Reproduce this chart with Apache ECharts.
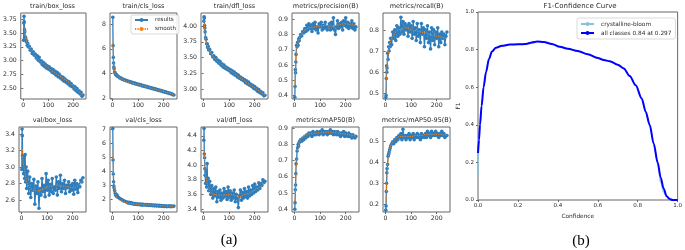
<!DOCTYPE html>
<html>
<head>
<meta charset="utf-8">
<script src="https://cdn.jsdelivr.net/npm/echarts@6/dist/echarts.min.js"></script>
<style>
  html, body { margin: 0; padding: 0; background: #fff; }
  #chart { width: 685px; height: 250px; }
</style>
</head>
<body>
<div id="chart"></div>
<script>
// epochs sampled from the training log (results + smooth)
const epochs = [1,2,3,4,5,6,8,10,12,14,16,18,20,24,28,32,36,40,44,48,52,56,60,64,68,72,76,80,84,88,92,96,100,104,108,112,116,120,124,128,132,136,140,144,148,152,156,160,164,168,172,176,180,184,188,192,196,200,204,208,212,216,220,224,228,232,236,240]
const smoothEpochs = [1,3,5,8,12,16,20,30,40,60,80,100,120,140,160,180,200,220,240]

const trainBox = [3.37,3.68,3.80,3.70,3.56,3.52,3.43,3.41,3.34,3.36,
  3.28,3.31,3.25,3.26,3.19,3.21,3.13,3.16,3.10,3.12,
  3.05,3.09,3.01,3.06,2.98,3.00,2.93,2.97,2.90,2.94,
  2.87,2.91,2.85,2.89,2.83,2.86,2.79,2.84,2.77,2.81,
  2.74,2.79,2.71,2.76,2.69,2.72,2.66,2.70,2.63,2.67,
  2.61,2.64,2.58,2.62,2.55,2.59,2.53,2.55,2.49,2.53,
  2.46,2.50,2.43,2.46,2.40,2.43,2.36,2.38]
const trainBoxSmooth = [3.62,3.62,3.57,3.48,3.38,3.31,3.27,3.19,3.13,3.03,2.95,2.87,2.80,2.74,2.68,2.62,2.54,2.46,2.38]

const trainCls = [8.55,6.25,5.30,4.85,4.52,4.38,4.12,4.05,3.93,3.92,
  3.83,3.86,3.76,3.74,3.64,3.65,3.55,3.56,3.48,3.49,
  3.41,3.43,3.35,3.38,3.29,3.32,3.24,3.27,3.19,3.22,
  3.14,3.17,3.09,3.12,3.05,3.09,3.00,3.03,2.96,2.98,
  2.91,2.94,2.86,2.89,2.82,2.85,2.77,2.80,2.73,2.76,
  2.68,2.71,2.63,2.67,2.59,2.63,2.54,2.57,2.49,2.52,
  2.44,2.47,2.39,2.42,2.34,2.36,2.28,2.26]
const trainClsSmooth = [6.6,5.4,4.6,4.15,3.95,3.85,3.77,3.62,3.51,3.33,3.20,3.10,3.01,2.87,2.77,2.65,2.55,2.41,2.30]

const trainDfl = [4.08,4.15,4.13,4.01,3.97,3.91,3.82,3.79,3.72,3.72,
  3.66,3.68,3.62,3.63,3.56,3.58,3.51,3.53,3.47,3.50,
  3.44,3.46,3.41,3.44,3.38,3.40,3.35,3.38,3.33,3.35,
  3.31,3.33,3.29,3.31,3.26,3.29,3.24,3.27,3.22,3.24,
  3.19,3.22,3.17,3.19,3.15,3.17,3.13,3.15,3.10,3.13,
  3.08,3.11,3.06,3.08,3.04,3.06,3.01,3.04,2.99,3.01,
  2.96,2.99,2.94,2.96,2.92,2.94,2.89,2.90]
const trainDflSmooth = [4.08,4.05,3.95,3.82,3.73,3.67,3.63,3.56,3.50,3.42,3.36,3.30,3.25,3.18,3.13,3.07,3.02,2.96,2.90]

const precision = [0.39,0.46,0.57,0.55,0.62,0.67,0.73,0.72,0.75,0.73,
  0.77,0.76,0.78,0.80,0.79,0.82,0.81,0.84,0.82,0.86,
  0.83,0.87,0.84,0.86,0.82,0.87,0.84,0.88,0.83,0.85,
  0.81,0.87,0.85,0.88,0.83,0.86,0.84,0.88,0.85,0.83,
  0.85,0.87,0.83,0.88,0.84,0.91,0.83,0.80,0.85,0.89,
  0.84,0.87,0.85,0.88,0.83,0.89,0.86,0.91,0.85,0.88,
  0.84,0.87,0.85,0.89,0.84,0.87,0.83,0.85]
const precisionSmooth = [0.45,0.52,0.60,0.69,0.74,0.76,0.78,0.81,0.83,0.845,0.85,0.855,0.86,0.855,0.86,0.865,0.87,0.865,0.86]

const recall = [0.48,0.49,0.57,0.63,0.60,0.62,0.69,0.66,0.72,0.70,
  0.74,0.72,0.76,0.73,0.79,0.76,0.80,0.75,0.82,0.77,
  0.81,0.78,0.86,0.79,0.84,0.78,0.83,0.80,0.82,0.77,
  0.83,0.79,0.82,0.76,0.84,0.78,0.81,0.75,0.83,0.77,
  0.80,0.74,0.83,0.78,0.81,0.72,0.80,0.76,0.82,0.74,
  0.79,0.71,0.81,0.75,0.80,0.73,0.79,0.76,0.81,0.72,
  0.78,0.74,0.79,0.76,0.78,0.73,0.77,0.79]
const recallSmooth = [0.51,0.56,0.61,0.66,0.70,0.73,0.75,0.77,0.79,0.805,0.81,0.80,0.795,0.79,0.785,0.775,0.77,0.765,0.76]

const valBox = [2.97,3.46,3.38,3.14,2.98,3.10,2.92,3.13,2.86,3.15,
  2.82,3.00,2.74,2.95,2.68,2.88,2.63,2.80,2.72,2.85,
  2.55,2.77,2.68,2.82,2.50,2.74,2.66,2.86,2.70,2.78,
  2.64,2.92,2.72,2.84,2.66,2.79,2.70,2.86,2.68,2.76,
  2.72,2.88,2.66,2.82,2.74,2.90,2.70,2.80,2.74,2.84,
  2.68,2.78,2.75,2.82,2.70,2.78,2.72,2.80,2.67,2.84,
  2.73,2.80,2.69,2.78,2.76,2.84,2.82,2.87]
const valBoxSmooth = [3.20,3.22,3.10,3.02,2.96,2.88,2.82,2.76,2.73,2.71,2.73,2.76,2.77,2.78,2.77,2.76,2.75,2.77,2.83]

const valCls = [7.05,4.80,3.80,3.25,2.95,2.80,2.62,2.45,2.30,2.35,
  2.22,2.28,2.15,2.12,2.05,2.02,1.96,1.92,1.88,1.86,
  1.82,1.80,1.74,1.78,1.70,1.76,1.68,1.72,1.65,1.70,
  1.63,1.68,1.62,1.66,1.60,1.65,1.58,1.64,1.59,1.63,
  1.57,1.62,1.56,1.61,1.55,1.60,1.54,1.59,1.53,1.58,
  1.52,1.57,1.51,1.56,1.50,1.55,1.49,1.54,1.48,1.53,
  1.47,1.52,1.48,1.53,1.47,1.52,1.48,1.51]
const valClsSmooth = [5.6,4.4,3.3,2.75,2.40,2.20,2.05,1.92,1.83,1.73,1.68,1.64,1.62,1.59,1.57,1.55,1.52,1.50,1.50]

const valDfl = [4.34,4.50,4.15,4.10,3.95,3.86,3.75,3.92,3.70,4.02,
  3.72,3.82,3.65,3.78,3.60,3.72,3.55,3.68,3.58,3.70,
  3.50,3.64,3.56,3.66,3.52,3.62,3.55,3.68,3.57,3.64,
  3.53,3.70,3.56,3.65,3.52,3.62,3.55,3.66,3.50,3.60,
  3.54,3.42,3.58,3.66,3.52,3.63,3.55,3.68,3.57,3.64,
  3.55,3.70,3.58,3.66,3.60,3.72,3.62,3.74,3.64,3.70,
  3.66,3.76,3.68,3.74,3.72,3.80,3.76,3.78]
const valDflSmooth = [4.25,4.15,3.98,3.85,3.80,3.72,3.68,3.62,3.60,3.59,3.59,3.60,3.59,3.57,3.60,3.62,3.66,3.70,3.76]

const map50 = [0.40,0.44,0.52,0.55,0.62,0.68,0.71,0.76,0.78,0.80,
  0.79,0.81,0.82,0.83,0.82,0.84,0.83,0.85,0.84,0.86,
  0.85,0.87,0.86,0.87,0.85,0.88,0.86,0.87,0.86,0.88,
  0.87,0.86,0.88,0.87,0.89,0.86,0.88,0.87,0.88,0.86,
  0.88,0.87,0.89,0.87,0.88,0.86,0.88,0.87,0.86,0.88,
  0.86,0.87,0.85,0.87,0.86,0.88,0.85,0.87,0.86,0.85,
  0.87,0.85,0.86,0.84,0.86,0.85,0.84,0.85]
const map50Smooth = [0.45,0.50,0.58,0.67,0.76,0.79,0.82,0.84,0.855,0.865,0.87,0.872,0.875,0.875,0.872,0.868,0.864,0.858,0.852]

const map5095 = [0.17,0.19,0.26,0.30,0.35,0.37,0.39,0.43,0.44,0.45,
  0.46,0.47,0.48,0.49,0.50,0.49,0.51,0.50,0.52,0.51,
  0.53,0.52,0.54,0.51,0.56,0.52,0.53,0.51,0.53,0.52,
  0.54,0.51,0.53,0.52,0.54,0.51,0.53,0.52,0.54,0.52,
  0.53,0.51,0.54,0.52,0.53,0.52,0.54,0.52,0.55,0.53,
  0.54,0.52,0.55,0.53,0.54,0.53,0.55,0.53,0.54,0.52,
  0.54,0.53,0.55,0.53,0.54,0.52,0.53,0.53]
const map5095Smooth = [0.20,0.25,0.31,0.38,0.43,0.46,0.48,0.50,0.515,0.525,0.525,0.525,0.53,0.53,0.535,0.535,0.535,0.535,0.53]

// tick labels
const epochTicks = [0, 100, 200]
const trainBoxTicks = [2.5, 2.75, 3.0, 3.25, 3.5, 3.75]
const trainClsTicks = [2, 4, 6, 8]
const trainDflTicks = [3.0, 3.25, 3.5, 3.75, 4.0]
const precisionTicks = [0.4, 0.5, 0.6, 0.7, 0.8, 0.9]
const recallTicks = [0.5, 0.6, 0.7, 0.8]
const valBoxTicks = [2.6, 2.8, 3.0, 3.2, 3.4]
const valClsTicks = [2, 3, 4, 5, 6, 7]
const valDflTicks = [3.4, 3.6, 3.8, 4.0, 4.2, 4.4]
const map50Ticks = [0.4, 0.5, 0.6, 0.7, 0.8, 0.9]
const map5095Ticks = [0.2, 0.3, 0.4, 0.5]

// F1-confidence curve
const confidence = [0,0.005,0.01,0.018,0.028,0.04,0.055,0.07,0.09,0.12,0.16,0.2,0.24,0.27,0.297,0.33,0.37,0.41,0.45,0.5,0.55,0.6,0.63,0.66,0.7,0.73,0.76,0.79,0.82,0.84,0.86,0.88,0.9,0.915,0.93,0.945,0.96,0.975,1.0]
const f1All = [0.25,0.32,0.40,0.50,0.60,0.68,0.75,0.79,0.81,0.82,0.827,0.828,0.830,0.838,0.843,0.840,0.830,0.815,0.805,0.792,0.775,0.755,0.745,0.738,0.72,0.70,0.66,0.61,0.54,0.47,0.40,0.30,0.20,0.12,0.06,0.02,0.005,0.0,0.0]
const f1Class = [0.12,0.30,0.39,0.50,0.60,0.68,0.75,0.79,0.81,0.82,0.827,0.828,0.830,0.838,0.843,0.840,0.830,0.815,0.805,0.792,0.775,0.755,0.745,0.738,0.72,0.70,0.66,0.61,0.54,0.47,0.40,0.30,0.19,0.09,0.04,0.015,0.003,0.0,0.0]
const f1Ticks = [0, 0.2, 0.4, 0.6, 0.8, 1.0]

const FONT = 'DejaVu Sans'
const TXT = '#2b2b2b'
const FRAME = '#666'

const panels = [
  { title: 'train/box_loss', data: trainBox, smooth: trainBoxSmooth, ticks: trainBoxTicks, min: 2.31, max: 3.86, dec: 2, left: 19, top: 13, h: 86 },
  { title: 'train/cls_loss', data: trainCls, smooth: trainClsSmooth, ticks: trainClsTicks, min: 1.94, max: 8.89, dec: 0, left: 110, top: 13, h: 86 },
  { title: 'train/dfl_loss', data: trainDfl, smooth: trainDflSmooth, ticks: trainDflTicks, min: 2.84, max: 4.21, dec: 2, left: 201, top: 13, h: 86 },
  { title: 'metrics/precision(B)', data: precision, smooth: precisionSmooth, ticks: precisionTicks, min: 0.378, max: 0.941, dec: 1, left: 292, top: 13, h: 86 },
  { title: 'metrics/recall(B)', data: recall, smooth: recallSmooth, ticks: recallTicks, min: 0.473, max: 0.88, dec: 1, left: 383, top: 13, h: 86 },
  { title: 'val/box_loss', data: valBox, smooth: valBoxSmooth, ticks: valBoxTicks, min: 2.455, max: 3.485, dec: 1, left: 19, top: 127, h: 85 },
  { title: 'val/cls_loss', data: valCls, smooth: valClsSmooth, ticks: valClsTicks, min: 1.09, max: 7.16, dec: 0, left: 110, top: 127, h: 85 },
  { title: 'val/dfl_loss', data: valDfl, smooth: valDflSmooth, ticks: valDflTicks, min: 3.36, max: 4.52, dec: 1, left: 201, top: 127, h: 85 },
  { title: 'metrics/mAP50(B)', data: map50, smooth: map50Smooth, ticks: map50Ticks, min: 0.383, max: 0.908, dec: 1, left: 292, top: 127, h: 85 },
  { title: 'metrics/mAP50-95(B)', data: map5095, smooth: map5095Smooth, ticks: map5095Ticks, min: 0.161, max: 0.571, dec: 1, left: 383, top: 127, h: 85 }
]

const grid = [], xAxis = [], yAxis = [], series = [], graphic = []
const PW = 67

panels.forEach((p, i) => {
  grid.push({ left: p.left, top: p.top, width: PW, height: p.h, show: true, borderColor: FRAME, borderWidth: 1, backgroundColor: '#fff' })
  xAxis.push({
    type: 'value', gridIndex: i, min: -10, max: 252,
    axisLine: { show: false },
    axisTick: { show: true, length: 2, customValues: epochTicks, lineStyle: { color: FRAME } },
    axisLabel: { customValues: epochTicks, fontSize: 6.2, fontFamily: FONT, color: TXT, margin: 3 },
    splitLine: { show: false }
  })
  yAxis.push({
    type: 'value', gridIndex: i, min: p.min, max: p.max,
    axisLine: { show: false },
    axisTick: { show: true, length: 2, customValues: p.ticks, lineStyle: { color: FRAME } },
    axisLabel: { customValues: p.ticks, fontSize: 6.2, fontFamily: FONT, color: TXT, margin: 4,
      formatter: v => v.toFixed(p.dec) },
    splitLine: { show: false }
  })
  series.push({
    name: 'results', type: 'line', xAxisIndex: i, yAxisIndex: i,
    data: epochs.map((e, k) => [e, p.data[k]]),
    symbol: 'circle', symbolSize: 3.6, showSymbol: true,
    itemStyle: { color: '#2f7dbb' },
    lineStyle: { color: '#2f7dbb', width: 1.3 },
    z: 2, silent: true
  })
  series.push({
    name: 'smooth', type: 'line', xAxisIndex: i, yAxisIndex: i,
    data: smoothEpochs.map((e, k) => [e, p.smooth[k]]),
    smooth: 0.4, symbol: 'none',
    itemStyle: { color: '#ff7f0e' },
    lineStyle: { color: '#ff7f0e', width: 1, type: [1.2, 1.2] },
    z: 3, silent: true
  })
  graphic.push({
    type: 'text', x: p.left + PW / 2, y: p.top - 6.5,
    style: { text: p.title, textAlign: 'center', textVerticalAlign: 'middle', font: `6.5px "${FONT}"`, fill: TXT }
  })
})

// F1-confidence panel
const fi = panels.length
grid.push({ left: 478, top: 12, width: 202, height: 188, show: true, borderColor: FRAME, borderWidth: 1 })
xAxis.push({
  type: 'value', gridIndex: fi, min: 0, max: 1,
  name: 'Confidence', nameLocation: 'middle', nameGap: 12,
  nameTextStyle: { fontSize: 5.8, fontFamily: FONT, color: TXT },
  axisLine: { show: false },
  axisTick: { show: true, length: 2, customValues: f1Ticks, lineStyle: { color: FRAME } },
  axisLabel: { customValues: f1Ticks, fontSize: 5.5, fontFamily: FONT, color: TXT, margin: 3, formatter: v => v.toFixed(1) },
  splitLine: { show: false }
})
yAxis.push({
  type: 'value', gridIndex: fi, min: 0, max: 1,
  name: 'F1', nameLocation: 'middle', nameGap: 13, nameRotate: 90,
  nameTextStyle: { fontSize: 5.8, fontFamily: FONT, color: TXT },
  axisLine: { show: false },
  axisTick: { show: true, length: 2, customValues: f1Ticks, lineStyle: { color: FRAME } },
  axisLabel: { customValues: f1Ticks, fontSize: 5.5, fontFamily: FONT, color: TXT, margin: 4, formatter: v => v.toFixed(1) },
  splitLine: { show: false }
})
series.push({
  name: 'crystalline-bloom', type: 'line', xAxisIndex: fi, yAxisIndex: fi,
  data: confidence.map((c, k) => [c, f1Class[k]]),
  smooth: 0.3, smoothMonotone: 'x', symbol: 'none',
  itemStyle: { color: '#86c3dc' }, lineStyle: { color: '#86c3dc', width: 1 }, z: 2, silent: true
})
series.push({
  name: 'all classes 0.84 at 0.297', type: 'line', xAxisIndex: fi, yAxisIndex: fi,
  data: confidence.map((c, k) => [c, f1All[k]]),
  smooth: 0.3, smoothMonotone: 'x', symbol: 'none',
  itemStyle: { color: '#0000ff' }, lineStyle: { color: '#0000ff', width: 2 }, z: 3, silent: true
})
graphic.push({
  type: 'text', x: 580, y: 6,
  style: { text: 'F1-Confidence Curve', textAlign: 'center', textVerticalAlign: 'middle', font: `7px "${FONT}"`, fill: TXT }
})
graphic.push({
  type: 'text', x: 229, y: 240,
  style: { text: '(a)', textAlign: 'center', textVerticalAlign: 'middle', font: '15px "Liberation Serif"', fill: '#000' }
})
graphic.push({
  type: 'text', x: 581, y: 241,
  style: { text: '(b)', textAlign: 'center', textVerticalAlign: 'middle', font: '15px "Liberation Serif"', fill: '#000' }
})

const legendBox = { borderColor: '#cfcfcf', borderWidth: 0.8, borderRadius: 2, backgroundColor: 'rgba(255,255,255,0.85)' }

const chart = echarts.init(document.getElementById('chart'), null, { renderer: 'canvas' })
chart.setOption({
  animation: false,
  backgroundColor: '#fff',
  grid, xAxis, yAxis, series, graphic,
  legend: [
    Object.assign({
      data: ['results', 'smooth'], orient: 'vertical', left: 131, top: 15,
      itemWidth: 13, itemHeight: 5, itemGap: 3, padding: [2, 3, 2, 3],
      textStyle: { fontSize: 5.6, fontFamily: FONT, color: TXT, padding: [0, 0, 0, 2] },
      selectedMode: false
    }, legendBox),
    Object.assign({
      data: ['crystalline-bloom', 'all classes 0.84 at 0.297'], orient: 'vertical', left: 577, top: 18,
      itemWidth: 13, itemHeight: 5, itemGap: 3, padding: [3, 4, 3, 3],
      textStyle: { fontSize: 5.8, fontFamily: FONT, color: TXT, padding: [0, 0, 0, 2] },
      selectedMode: false
    }, legendBox)
  ]
})
</script>
</body>
</html>
